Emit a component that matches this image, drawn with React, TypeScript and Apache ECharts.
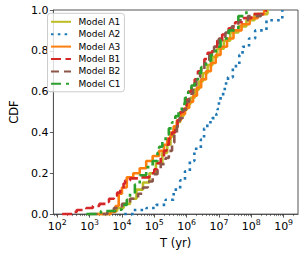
import React, { useEffect, useRef } from "react";
import * as echarts from "echarts";

// x values are log10(T / yr); y values are the cumulative fraction
const modelA1: [number, number][] = [
  [3.2, 0.0], [3.65, 0.015], [3.85, 0.03], [4.05, 0.05], [4.25, 0.075], [4.45, 0.12],
  [4.65, 0.155], [4.85, 0.2], [5.05, 0.25], [5.25, 0.3], [5.4, 0.34], [5.5, 0.38],
  [5.6, 0.42], [5.7, 0.45], [5.8, 0.48], [5.9, 0.51], [6.0, 0.54], [6.12, 0.57],
  [6.25, 0.61], [6.38, 0.65], [6.5, 0.69], [6.65, 0.73], [6.8, 0.77], [6.95, 0.81],
  [7.15, 0.85], [7.35, 0.89], [7.6, 0.92], [7.85, 0.95], [8.1, 0.98], [8.5, 1.0],
];
const modelA2: [number, number][] = [
  [4.07, 0.0], [4.36, 0.02], [4.76, 0.03], [5.06, 0.045], [5.35, 0.07], [5.6, 0.12],
  [5.8, 0.165], [5.95, 0.21], [6.1, 0.26], [6.24, 0.32], [6.44, 0.365], [6.54, 0.42],
  [6.64, 0.45], [6.79, 0.47], [6.92, 0.49], [6.96, 0.515], [7.0, 0.55], [7.05, 0.58],
  [7.13, 0.605], [7.18, 0.64], [7.28, 0.67], [7.43, 0.725], [7.63, 0.78], [7.73, 0.82],
  [7.93, 0.86], [8.12, 0.9], [8.47, 0.95], [8.96, 1.0],
];
const modelA3: [number, number][] = [
  [3.25, 0.0], [3.65, 0.01], [3.8, 0.04], [3.9, 0.1], [4.0, 0.13], [4.15, 0.18],
  [4.35, 0.2], [4.55, 0.225], [4.75, 0.26], [4.95, 0.285], [5.15, 0.31], [5.3, 0.34],
  [5.4, 0.37], [5.5, 0.4], [5.6, 0.43], [5.7, 0.46], [5.82, 0.49], [5.95, 0.52],
  [6.08, 0.55], [6.2, 0.58], [6.32, 0.62], [6.45, 0.66], [6.6, 0.7], [6.75, 0.74],
  [6.9, 0.78], [7.05, 0.82], [7.25, 0.86], [7.45, 0.9], [7.7, 0.93], [7.95, 0.96],
  [8.2, 0.98], [8.4, 1.0],
];
const modelB1: [number, number][] = [
  [2.15, 0.0], [2.5, 0.01], [2.6, 0.02], [2.9, 0.03], [3.1, 0.04], [3.3, 0.05],
  [3.5, 0.06], [3.6, 0.075], [3.75, 0.09], [3.85, 0.105], [3.95, 0.125], [4.05, 0.15],
  [4.1, 0.165], [4.25, 0.175], [4.5, 0.18], [4.85, 0.2], [5.0, 0.22], [5.1, 0.25],
  [5.2, 0.28], [5.3, 0.31], [5.38, 0.34], [5.45, 0.37], [5.55, 0.4], [5.65, 0.43],
  [5.72, 0.46], [5.8, 0.5], [5.9, 0.53], [6.0, 0.56], [6.05, 0.6], [6.15, 0.63],
  [6.25, 0.66], [6.35, 0.7], [6.45, 0.73], [6.55, 0.76], [6.65, 0.79], [6.8, 0.82],
  [6.95, 0.85], [7.1, 0.88], [7.3, 0.91], [7.5, 0.94], [7.75, 0.96], [8.0, 0.98],
  [8.45, 1.0],
];
const modelB2: [number, number][] = [
  [3.0, 0.0], [3.55, 0.01], [3.75, 0.03], [4.0, 0.05], [4.25, 0.075], [4.5, 0.1],
  [4.65, 0.13], [4.8, 0.16], [4.95, 0.195], [5.1, 0.22], [5.2, 0.245], [5.35, 0.275],
  [5.45, 0.31], [5.55, 0.35], [5.62, 0.39], [5.7, 0.43], [5.78, 0.47], [5.88, 0.51],
  [5.98, 0.55], [6.08, 0.59], [6.2, 0.63], [6.3, 0.67], [6.42, 0.7], [6.55, 0.74],
  [6.7, 0.78], [6.85, 0.82], [7.0, 0.86], [7.2, 0.89], [7.4, 0.92], [7.6, 0.95],
  [7.9, 0.97], [8.3, 1.0],
];
const modelC1: [number, number][] = [
  [2.9, 0.0], [3.35, 0.015], [3.85, 0.022], [4.0, 0.045], [4.15, 0.07], [4.25, 0.1],
  [4.4, 0.145], [4.55, 0.19], [4.75, 0.23], [4.95, 0.26], [5.1, 0.3], [5.15, 0.33],
  [5.25, 0.36], [5.35, 0.39], [5.45, 0.42], [5.55, 0.45], [5.65, 0.48], [5.75, 0.51],
  [5.85, 0.54], [5.95, 0.57], [6.05, 0.6], [6.15, 0.63], [6.25, 0.66], [6.35, 0.69],
  [6.45, 0.72], [6.6, 0.75], [6.75, 0.78], [6.9, 0.82], [7.05, 0.86], [7.3, 0.9],
  [7.6, 0.97], [7.85, 1.0],
];

const seriesNames = ["Model A1", "Model A2", "Model A3", "Model B1", "Model B2", "Model C1"];
const xMajorExponents = [2, 3, 4, 5, 6, 7, 8, 9];
const yTicks = [0, 0.2, 0.4, 0.6, 0.8, 1.0];

const X_MIN = 1.88;
const X_MAX = 9.445;
const FONT = "DejaVu Sans";

export default function App() {
  const ref = useRef<HTMLDivElement>(null);
  useEffect(() => {
    if (!ref.current) return;
    const chart = echarts.init(ref.current, undefined, { renderer: "svg" });
    const minor: number[] = [];
    for (let n = 1; n <= 9; n++) {
      for (let k = 2; k <= 9; k++) {
        const v = n + Math.log10(k);
        if (v > X_MIN && v < X_MAX) minor.push(v);
      }
    }
    const datasets = [modelA1, modelA2, modelA3, modelB1, modelB2, modelC1];
    const colors = ["#bcbd22", "#1f77b4", "#ff7f0e", "#d62728", "#8c564b", "#2ca02c"];
    const dashes: any[] = ["solid", [2.6, 4.2], "solid", [10, 4.5], [8, 5], [10, 5, 3, 5]];
    chart.setOption({
      animation: false,
      grid: {
        left: 43, top: 10, right: 9, bottom: 36.7,
        show: true, borderColor: "#555", borderWidth: 1, backgroundColor: "transparent",
      },
      legend: {
        show: true,
        orient: "vertical",
        left: 47.5,
        top: 13.3,
        padding: [4, 4, 3.5, 2.5],
        itemGap: 3.4,
        itemWidth: 20,
        itemHeight: 10,
        itemStyle: { opacity: 0, borderWidth: 0 },
        backgroundColor: "rgba(255,255,255,0.8)",
        borderColor: "#cccccc",
        borderWidth: 1,
        borderRadius: 3,
        textStyle: { fontFamily: FONT, fontSize: 9, color: "#000", padding: [0, 0, 0, 2.5] },
        data: seriesNames,
      },
      xAxis: [
        {
          type: "value",
          min: X_MIN,
          max: X_MAX,
          name: "T (yr)",
          nameLocation: "middle",
          nameGap: 17,
          nameTextStyle: { fontFamily: FONT, fontSize: 11.5, color: "#000" },
          axisLine: { show: true, lineStyle: { color: "#555", width: 1 } },
          axisTick: {
            show: true, length: 3.5, lineStyle: { color: "#333", width: 0.8 },
            customValues: xMajorExponents,
          },
          axisLabel: {
            show: true,
            margin: 4,
            customValues: xMajorExponents,
            formatter: (v: number) => `{b|10}{s|${Math.round(v)}}`,
            rich: {
              b: { fontFamily: FONT, fontSize: 11, color: "#000", lineHeight: 14, verticalAlign: "bottom" },
              s: { fontFamily: FONT, fontSize: 7.8, color: "#000", lineHeight: 14, verticalAlign: "top" },
            },
          },
          splitLine: { show: false },
        },
        {
          type: "value",
          min: X_MIN,
          max: X_MAX,
          gridIndex: 0,
          position: "bottom",
          axisLine: { show: false },
          axisLabel: { show: false },
          splitLine: { show: false },
          axisTick: {
            show: true, length: 2, lineStyle: { color: "#333", width: 0.6 },
            customValues: minor,
          },
        },
      ],
      yAxis: {
        type: "value",
        min: 0,
        max: 1,
        interval: 0.2,
        name: "CDF",
        nameLocation: "middle",
        nameGap: 27.5,
        nameTextStyle: { fontFamily: FONT, fontSize: 11.5, color: "#000" },
        axisLine: { show: true, lineStyle: { color: "#555", width: 1 } },
        axisTick: { show: true, length: 3.5, lineStyle: { color: "#333", width: 0.8 }, customValues: yTicks },
        axisLabel: {
          margin: 5,
          fontFamily: FONT,
          fontSize: 11,
          color: "#000",
          customValues: yTicks,
          formatter: (v: number) => v.toFixed(1),
        },
        splitLine: { show: false },
      },
      series: datasets.map((d, i) => ({
        name: seriesNames[i],
        type: "line",
        step: "end",
        data: d,
        symbol: "none",
        showSymbol: false,
        color: colors[i],
        lineStyle: { color: colors[i], width: 2.6, type: dashes[i], cap: "butt" },
        clip: true,
        z: 2 + i,
      })),
    });
    return () => chart.dispose();
  }, []);
  return (
    <div
      ref={ref}
      style={{ position: "fixed", left: 0, top: 0, width: 307, height: 254, background: "#fff" }}
    />
  );
}
